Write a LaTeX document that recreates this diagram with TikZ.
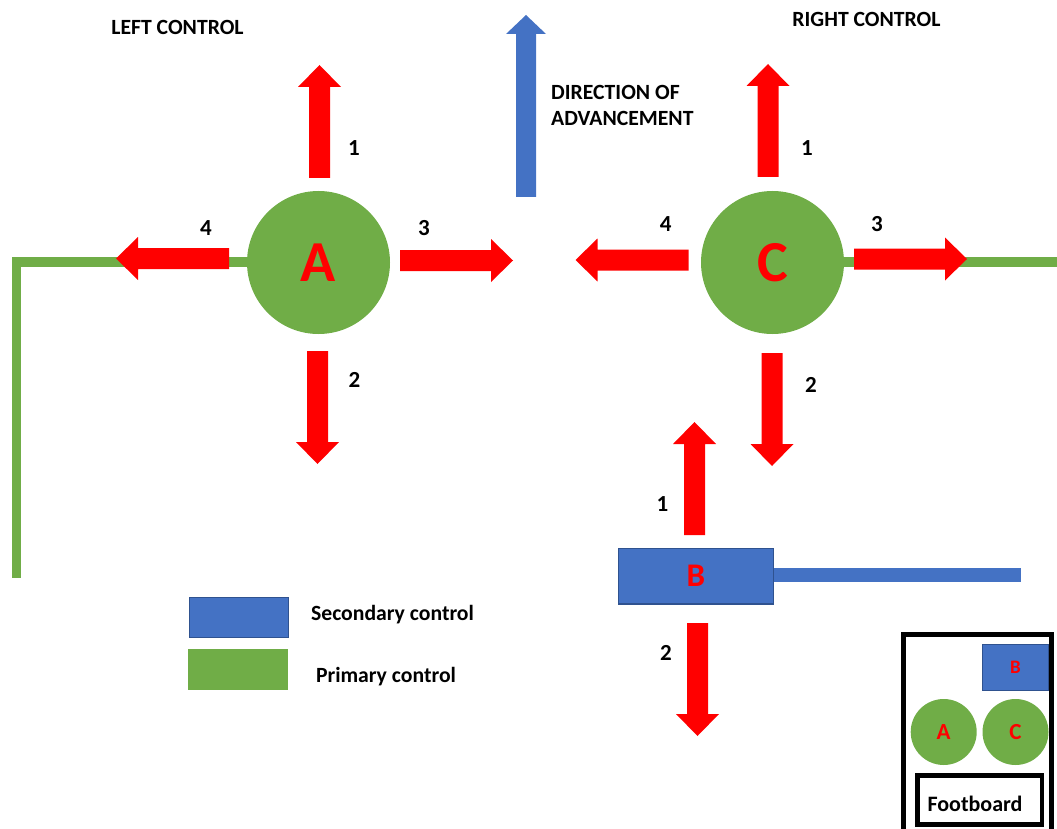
\documentclass[tikz,border=0pt]{standalone}
\usepackage{fontspec}
\setmainfont{Carlito}
\definecolor{ared}{HTML}{FF0000}
\definecolor{agreen}{HTML}{70AD47}
\definecolor{ablue}{HTML}{4472C4}
\definecolor{ablueline}{HTML}{2F528F}
\tikzset{
  pics/redarrow/.style={code={
    \fill[ared] (0,-10.5) -- (91,-10.5) -- (91,-21.5) -- (113,0) -- (91,21.5) -- (91,10.5) -- (0,10.5) -- cycle;}},
  pics/bluearrow/.style={code={
    \fill[ablue] (0,-10) -- (163,-10) -- (163,-20) -- (182,0) -- (163,20) -- (163,10) -- (0,10) -- cycle;}},
  lbl/.style={font=\fontsize{21.7}{25}\selectfont\bfseries, anchor=base, inner sep=0pt},
  num/.style={font=\fontsize{23}{26}\selectfont\bfseries, anchor=base, inner sep=0pt},
  bigctrl/.style={circle, fill=agreen, inner sep=0pt, minimum size=143pt, text=ared,
    font=\fontsize{58}{60}\selectfont\bfseries},
  smallctrl/.style={circle, fill=agreen, inner sep=0pt, minimum size=66pt, text=ared,
    font=\fontsize{23}{26}\selectfont\bfseries},
  greenline/.style={agreen, line width=9.5pt, miter limit=10},
}
\begin{document}
\begin{tikzpicture}[x=1pt,y=-1pt]
\useasboundingbox (0,0) rectangle (1057,829);

% titles
\node[lbl] (lefttitle) at (177.5,35) {LEFT CONTROL};
\node[lbl] (righttitle) at (866.5,27) {RIGHT CONTROL};
\node[lbl, anchor=base west] (dir1) at (551,100) {DIRECTION OF};
\node[lbl, anchor=base west] (dir2) at (551,126) {ADVANCEMENT};

% direction of advancement
\pic at (526,197) [rotate=90] {bluearrow};

% main controls
\node[bigctrl] (A) at (318.5,262.5) {A};
\node[bigctrl] (C) at (772.5,262.5) {C};
\node[rectangle, fill=ablue, draw=ablueline, line width=1.2pt, minimum width=155pt,
  minimum height=55.5pt, inner sep=0pt, text=ared, font=\fontsize{33}{36}\selectfont\bfseries]
  (B) at (695.8,576.2) {\raisebox{-3.5pt}{B}};

% green levers
\coordinate (leftcorner) at (16.5,262);
\coordinate (leftend) at (16.5,578);
\coordinate (rightend) at (1058,262);
\draw[greenline] (A.west |- 0,262) -- (leftcorner) -- (leftend);
\draw[agreen, line width=10pt] (C.east |- 0,262) -- (rightend);

% blue lever of B
\coordinate (bend) at (1020.7,575);
\fill[ablue] (B.east |- 0,568) rectangle (bend |- 0,582);

% red arrows around A
\pic at (319.5,178) [rotate=90] {redarrow};
\pic at (317.5,351) [rotate=-90] {redarrow};
\pic at (400,260.5) {redarrow};
\pic at (229,258.5) [rotate=180] {redarrow};
% red arrows around C
\pic at (768,177) [rotate=90] {redarrow};
\pic at (772,353) [rotate=-90] {redarrow};
\pic at (854,259) {redarrow};
\pic at (688.5,260) [rotate=180] {redarrow};
% red arrows around B
\pic at (694.5,535) [rotate=90] {redarrow};
\pic at (697.5,623) [rotate=-90] {redarrow};

% numbers
\node[num] (a1) at (354,156) {1};
\node[num] (a2) at (354.5,387) {2};
\node[num] (a3) at (424,235) {3};
\node[num] (a4) at (206,235) {4};
\node[num] (c1) at (807,156) {1};
\node[num] (c2) at (811,392) {2};
\node[num] (c3) at (877,231) {3};
\node[num] (c4) at (665.6,232) {4};
\node[num] (b1) at (662.5,511) {1};
\node[num] (b2) at (666,660) {2};

% legend
\node[rectangle, fill=ablue, draw=ablueline, line width=0.8pt, minimum width=99pt,
  minimum height=40pt, inner sep=0pt] (legsec) at (239.2,617) {};
\node[rectangle, fill=agreen, minimum width=100pt, minimum height=41pt, inner sep=0pt]
  (legpri) at (237.5,669.6) {};
\node[lbl] (legsectext) at (392.5,620.5) {Secondary control};
\node[lbl] (legpritext) at (386,682) {Primary control};

% inset
\draw[line width=5pt] (903,840) -- (903,634.5) -- (1051,634.5) -- (1051,840);
\node[rectangle, fill=ablue, draw=ablueline, line width=0.8pt, minimum width=65.5pt,
  minimum height=46.5pt, inner sep=0pt, text=ared, font=\fontsize{19}{22}\selectfont\bfseries]
  (sB) at (1015.5,667.4) {B};
\node[smallctrl] (sA) at (943.7,732) {A};
\node[smallctrl] (sC) at (1015.5,732) {C};
\node[rectangle, draw, line width=4.5pt, minimum width=124.5pt, minimum height=49pt,
  inner sep=0pt] (foot) at (979.8,800) {};
\node[lbl, font=\fontsize{22}{25}\selectfont\bfseries] (foottext) at (975,811) {Footboard};
\end{tikzpicture}
\end{document}
